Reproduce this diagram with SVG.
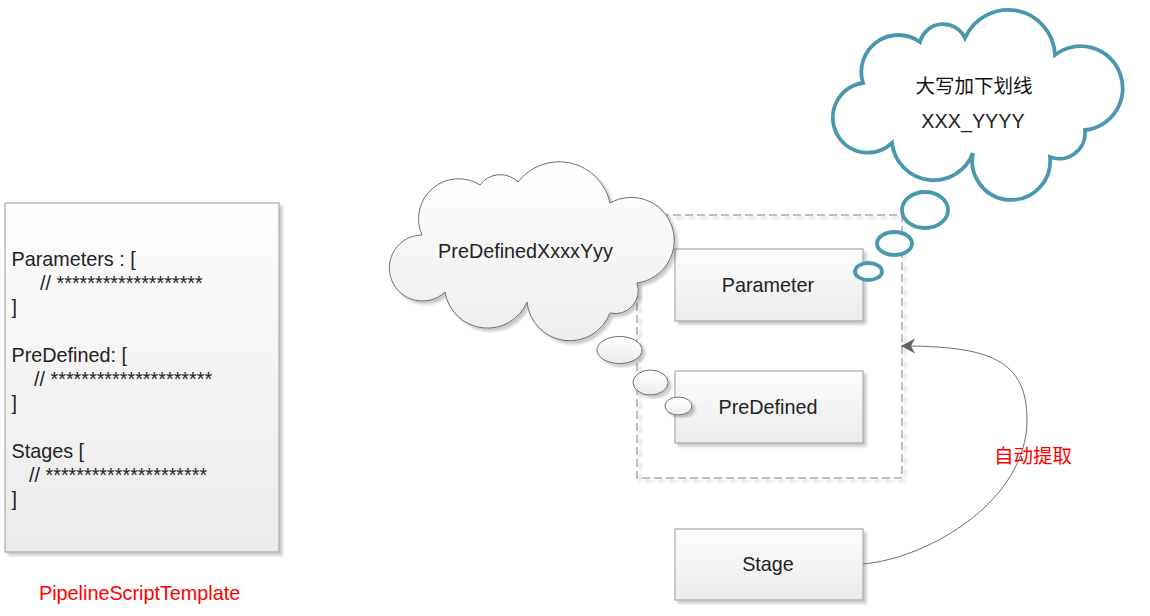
<svg xmlns="http://www.w3.org/2000/svg" width="1150" height="616" viewBox="0 0 1150 616">
<style>
.lat{font-family:"Liberation Sans",Arial,"Noto Sans CJK SC",sans-serif;font-size:19.8px;fill:#222}
.cjk{font-family:"Liberation Sans","Noto Sans CJK SC",sans-serif;font-size:19.5px}
.box{fill:url(#boxg);stroke:#9a9a9a;stroke-width:1}
.mid{text-anchor:middle}
.red{fill:#ff0000}
.bub-g{fill:url(#cloudg);stroke:#6e6e6e;stroke-width:1}
.bub-b{fill:#ffffff;stroke:#4a98ae;stroke-width:3.8}
</style>
<defs>
<linearGradient id="boxg" x1="0" y1="0" x2="0" y2="1">
<stop offset="0" stop-color="#fdfdfd"/>
<stop offset="1" stop-color="#ebebeb"/>
</linearGradient>
<linearGradient id="cloudg" x1="0" y1="0" x2="0" y2="1">
<stop offset="0" stop-color="#ffffff"/>
<stop offset="1" stop-color="#ededed"/>
</linearGradient>
<filter id="sh" x="-10%" y="-10%" width="125%" height="125%">
<feGaussianBlur in="SourceAlpha" stdDeviation="1.5"/>
<feOffset dx="3" dy="3" result="o"/>
<feComponentTransfer><feFuncA type="linear" slope="0.22"/></feComponentTransfer>
<feMerge><feMergeNode/><feMergeNode in="SourceGraphic"/></feMerge>
</filter>
<marker id="arr" viewBox="0 -8 15 16" refX="14" refY="0" markerWidth="15" markerHeight="16" markerUnits="userSpaceOnUse" orient="auto">
<path d="M0,-7.5 L14,0 L0,7.5 L4,0 z" fill="#666666"/>
</marker>
</defs>
<rect width="1150" height="616" fill="#ffffff"/>

<g id="template">
<rect class="box" x="5" y="203" width="274" height="349" filter="url(#sh)"/>
<text class="lat" x="11.5" y="265.7">Parameters : [</text>
<text class="lat" x="40" y="289.7">// *******************</text>
<text class="lat" x="11.5" y="313.7">]</text>
<text class="lat" x="11.5" y="361.7">PreDefined: [</text>
<text class="lat" x="34" y="385.7">// *********************</text>
<text class="lat" x="11.5" y="409.7">]</text>
<text class="lat" x="11.5" y="457.7">Stages [</text>
<text class="lat" x="29" y="481.7">// *********************</text>
<text class="lat" x="11.5" y="505.7">]</text>
</g>
<g id="template-label">
<text class="lat red" x="39" y="600">PipelineScriptTemplate</text>
</g>

<g id="group">
<rect x="637" y="215" width="265" height="263" fill="none" stroke="#ababab" stroke-width="1.5" stroke-dasharray="8 4" filter="url(#sh)"/>
</g>

<g id="parameter">
<rect class="box" x="675" y="249" width="188" height="72" filter="url(#sh)"/>
<text class="lat mid" x="768" y="292">Parameter</text>
</g>
<g id="predefined">
<rect class="box" x="675" y="371" width="188" height="72" filter="url(#sh)"/>
<text class="lat mid" x="768" y="413.5">PreDefined</text>
</g>
<g id="stage">
<rect class="box" x="675" y="529" width="188" height="71" filter="url(#sh)"/>
<text class="lat mid" x="768" y="571">Stage</text>
</g>

<g id="connectors">
<path d="M863,564 C930,558 1027,500 1027,420 C1027,360 990,346 901,346" fill="none" stroke="#707070" stroke-width="1" marker-end="url(#arr)"/>
<text class="cjk red mid" x="1033" y="463">自动提取</text>
</g>

<g id="cloud-predefined">
<path class="bub-g" filter="url(#sh)" d="M445,292 A33 33 0 1 1 422,235 A40 40 0 0 1 480,185 A25 25 0 0 1 518,182 A52 52 0 0 1 610,203 A43 43 0 1 1 637,283 A23 23 0 0 1 610,313 A43 43 0 0 1 527,302 A43 43 0 0 1 445,292 Z"/>
<ellipse class="bub-g" filter="url(#sh)" cx="619.5" cy="350" rx="22.5" ry="13.5"/>
<ellipse class="bub-g" filter="url(#sh)" cx="650.5" cy="382.5" rx="17.5" ry="12.5"/>
<ellipse class="bub-g" filter="url(#sh)" cx="678.5" cy="406" rx="13.5" ry="9"/>
<text class="lat mid" x="525.5" y="258">PreDefinedXxxxYyy</text>
</g>

<g id="cloud-naming">
<path class="bub-b" d="M892,143 A35 35 0 1 1 863,83 A37 37 0 0 1 920,42 A24 24 0 0 1 965,38 A47 47 0 0 1 1055,55 A42 42 0 1 1 1085,130 A26 26 0 0 1 1050,157 A39 39 0 1 1 973,153 A42 42 0 0 1 892,143 Z"/>
<ellipse class="bub-b" cx="925" cy="210" rx="23" ry="18"/>
<ellipse class="bub-b" cx="894.5" cy="243.5" rx="17.5" ry="11.5"/>
<ellipse class="bub-b" cx="868.5" cy="271.5" rx="13.5" ry="8.5"/>
<text class="cjk mid" x="974" y="93" fill="#111">大写加下划线</text>
<text class="lat mid" x="973" y="128" fill="#111">XXX_YYYY</text>
</g>
</svg>
